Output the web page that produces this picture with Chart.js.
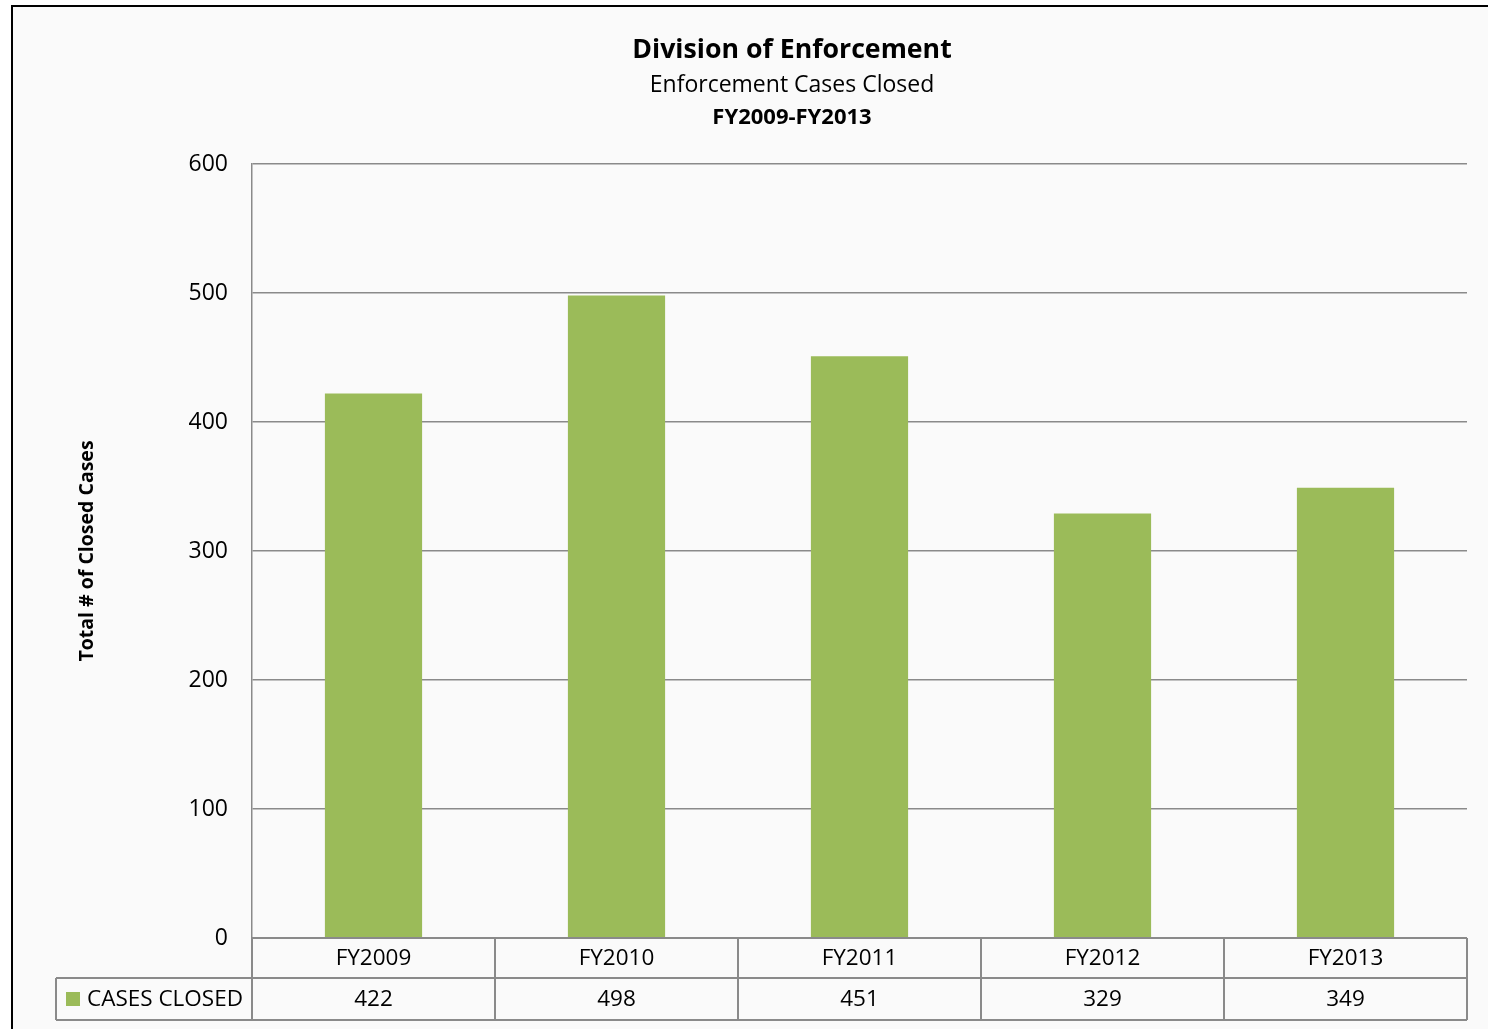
<!DOCTYPE html>
<html>
<head>
<meta charset="utf-8">
<script src="https://cdn.jsdelivr.net/npm/chart.js@4.4.1/dist/chart.umd.min.js"></script>
<style>
  body { margin: 0; background: #ffffff; }
  #wrap { width: 1488px; height: 1029px; position: relative; }
</style>
</head>
<body>
<div id="wrap"><canvas id="chart" width="1488" height="1029"></canvas></div>
<script>
// chart data
const categories = ['FY2009', 'FY2010', 'FY2011', 'FY2012', 'FY2013'];
const casesClosed = [422, 498, 451, 329, 349];
const seriesName = 'CASES CLOSED';
const yMin = 0, yMax = 600, yStep = 100;
const titleLines = ['Division of Enforcement', 'Enforcement Cases Closed', 'FY2009-FY2013'];
const yTitle = 'Total # of Closed Cases';

const FONT = "'Open Sans', 'Noto Sans', sans-serif";
const GREEN = '#9bbb59';
const LINE = '#8a8a8a';

// background, frame and heading text
const framePlugin = {
    id: 'frame',
    beforeDraw(chart) {
        const ctx = chart.ctx;
        ctx.save();
        ctx.fillStyle = '#ffffff';
        ctx.fillRect(0, 0, chart.width, chart.height);
        ctx.fillStyle = '#fafafa';
        ctx.fillRect(12, 6, chart.width, chart.height);
        ctx.strokeStyle = '#000000';
        ctx.lineWidth = 2;
        ctx.strokeRect(12, 6, chart.width + 10, chart.height + 10);
        ctx.restore();
    },
    afterDraw(chart) {
        const ctx = chart.ctx;
        ctx.save();
        ctx.fillStyle = '#000000';
        ctx.textAlign = 'center';
        ctx.textBaseline = 'middle';
        ctx.font = 'bold 26.7px ' + FONT;
        ctx.fillText(titleLines[0], 792, 50);
        ctx.font = '23px ' + FONT;
        ctx.fillText(titleLines[1], 792, 85);
        ctx.font = 'bold 22px ' + FONT;
        ctx.fillText(titleLines[2], 792, 118);
        ctx.restore();
    }
};

// data table under the x axis
const tablePlugin = {
    id: 'dataTable',
    afterDraw(chart) {
        const ctx = chart.ctx;
        const area = chart.chartArea;
        const xs = chart.scales.x;
        const labels = chart.data.labels;
        const values = chart.data.datasets[0].data;
        const n = labels.length;
        const colW = (area.right - area.left) / n;
        const top = area.bottom;
        const mid = top + 40;
        const bot = mid + 42;
        const legendLeft = 56;

        ctx.save();
        ctx.strokeStyle = LINE;
        ctx.lineWidth = 2;
        ctx.beginPath();
        ctx.moveTo(area.left, top); ctx.lineTo(area.right, top);
        ctx.moveTo(legendLeft, mid); ctx.lineTo(area.right, mid);
        ctx.moveTo(legendLeft, bot); ctx.lineTo(area.right, bot);
        ctx.moveTo(legendLeft, mid); ctx.lineTo(legendLeft, bot);
        for (let i = 0; i <= n; i++) {
            const x = area.left + i * colW;
            ctx.moveTo(x, top); ctx.lineTo(x, bot);
        }
        ctx.stroke();

        ctx.fillStyle = '#000000';
        ctx.font = '22.5px ' + FONT;
        ctx.textAlign = 'center';
        ctx.textBaseline = 'middle';
        labels.forEach((lab, i) => {
            const cx = xs.getPixelForValue(i);
            ctx.fillText(lab, cx, top + 21);
            ctx.fillText(String(values[i]), cx, mid + 22);
        });

        ctx.fillStyle = chart.data.datasets[0].backgroundColor;
        ctx.fillRect(66, mid + 14, 14, 14);
        ctx.fillStyle = '#000000';
        ctx.textAlign = 'left';
        ctx.fillText(chart.data.datasets[0].label, 87, mid + 22);
        ctx.restore();
    }
};

new Chart(document.getElementById('chart'), {
    type: 'bar',
    data: {
        labels: categories,
        datasets: [{
            label: seriesName,
            data: casesClosed,
            backgroundColor: GREEN,
            borderWidth: 0,
            barPercentage: 0.4,
            categoryPercentage: 1
        }]
    },
    options: {
        responsive: false,
        animation: false,
        layout: {
            padding: { top: 164, right: 21, bottom: 9, left: 0 }
        },
        plugins: {
            legend: { display: false },
            title: { display: false },
            tooltip: { enabled: false }
        },
        scales: {
            x: {
                grid: { display: false },
                border: { display: false },
                ticks: { display: false },
                afterFit(scale) { scale.height = 82; }
            },
            y: {
                min: yMin,
                max: yMax,
                ticks: {
                    stepSize: yStep,
                    color: '#000000',
                    padding: 24,
                    font: { family: FONT, size: 23 }
                },
                grid: { color: LINE, lineWidth: 1.5, drawTicks: false },
                border: { display: true, color: LINE, width: 1.5 },
                title: {
                    display: true,
                    text: yTitle,
                    color: '#000000',
                    font: { family: FONT, size: 19.5, weight: 'bold' },
                    padding: { top: 76 }
                },
                afterFit(scale) { scale.width = 252; }
            }
        }
    },
    plugins: [framePlugin, tablePlugin]
});
</script>
</body>
</html>
